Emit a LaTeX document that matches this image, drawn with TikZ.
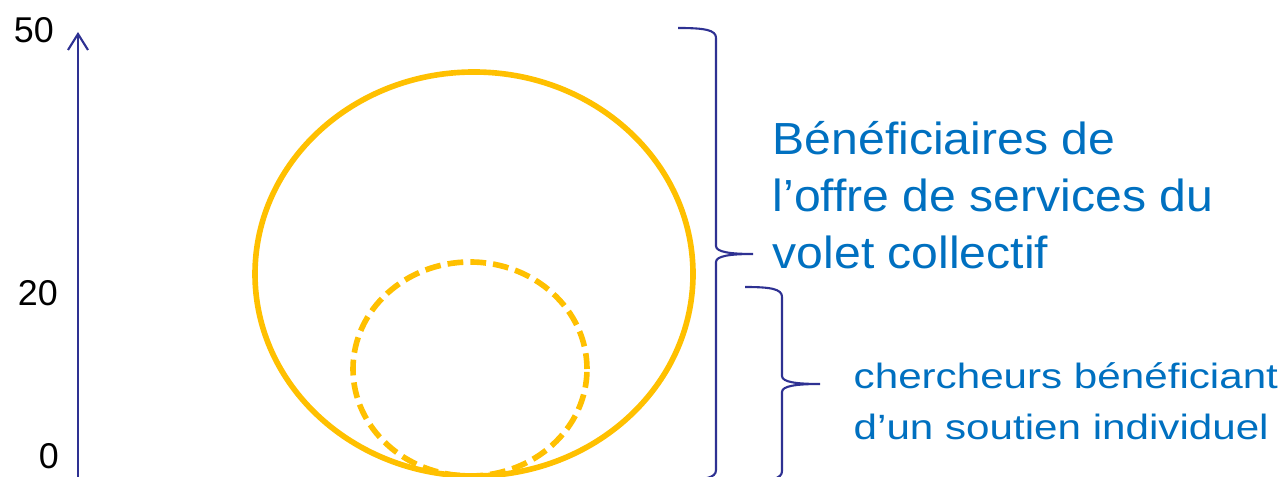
\documentclass[tikz,border=0pt]{standalone}
\usepackage{fontspec}
\setmainfont{Liberation Sans}
\newfontfamily\bigfont[FakeStretch=1.07]{Liberation Sans}
\newfontfamily\smallfont[FakeStretch=1.2]{Liberation Sans}
\usepackage{tikz}
\usetikzlibrary{arrows.meta}
\definecolor{axisblue}{HTML}{2E3192}
\definecolor{textblue}{HTML}{0070C0}
\definecolor{ringyellow}{HTML}{FFC000}
\tikzset{
	axisline/.style={draw=axisblue,line width=0.6pt},
	ring/.style={draw=ringyellow,line width=1.6pt},
	ticklabel/.style={anchor=east,inner sep=0pt,font=\fontsize{10.2}{12}\selectfont},
	bracelabel/.style={anchor=north west,inner sep=0pt,align=left,text=textblue},
}

\begin{document}
\begin{tikzpicture}
	\useasboundingbox (0,0) rectangle (12.88,4.77);
	\clip (0,0) rectangle (12.88,4.77);

		%Axis
		\coordinate (axisbot) at (0.78,0);
		\coordinate (axistop) at (0.78,4.45);
		\draw[axisline,-{Straight Barb[length=1.6mm,width=2mm]}] (axisbot) -- (axistop);
		\node (lab50) at (0.545,4.47) [ticklabel] {50};
		\node (lab20) at (0.585,1.835) [ticklabel] {20};
		\node (lab0) at (0.595,0.21) [ticklabel] {0};

		%Circles
		\draw[ring] (4.74,2.03) ellipse [x radius=2.19,y radius=2.02];
		\draw[ring,dash pattern=on 4.5pt off 2pt] (4.70,1.08) ellipse [x radius=1.17,y radius=1.07];

		%Braces
		\coordinate (tipA) at (7.53,2.23);
		\draw[axisline] (6.78,4.49) .. controls (7.05,4.49) and (7.16,4.47) .. (7.16,4.39)
			-- (7.16,2.31) .. controls (7.16,2.25) and (7.30,2.23) .. (tipA)
			.. controls (7.30,2.23) and (7.16,2.21) .. (7.16,2.15)
			-- (7.16,0.07) .. controls (7.16,-0.01) and (7.05,-0.03) .. (6.78,-0.03);
		\coordinate (tipB) at (8.20,0.93);
		\draw[axisline] (7.45,1.90) .. controls (7.71,1.90) and (7.82,1.88) .. (7.82,1.80)
			-- (7.82,1.01) .. controls (7.82,0.95) and (7.96,0.93) .. (tipB)
			.. controls (7.96,0.93) and (7.82,0.91) .. (7.82,0.85)
			-- (7.82,0.06) .. controls (7.82,-0.02) and (7.71,-0.04) .. (7.45,-0.04);

		\node (collectif) at (7.72,3.56) [bracelabel,font={\bigfont\fontsize{12.8}{16.2}\selectfont}]
			{Bénéficiaires de\\l’offre de services du\\volet collectif};
		\node (individuel) at (8.53,1.15) [bracelabel,font={\smallfont\fontsize{10}{14.5}\selectfont}]
			{chercheurs bénéficiant\\d’un soutien individuel};
\end{tikzpicture}
\end{document}
